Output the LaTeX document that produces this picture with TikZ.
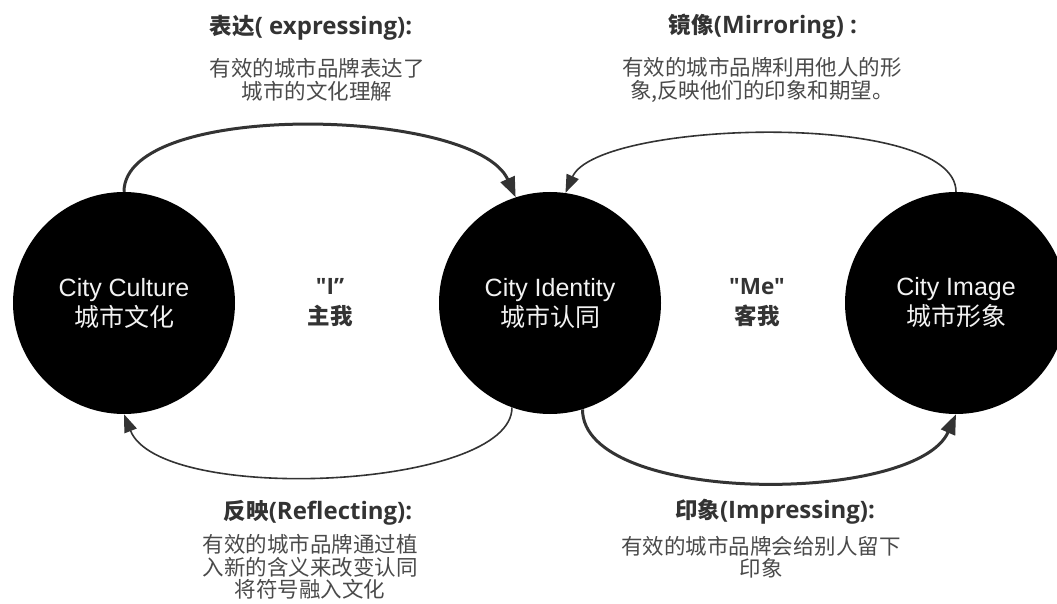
\documentclass[tikz,border=0pt]{standalone}
\usepackage{fontspec}
\setmainfont{Noto Sans CJK SC}
\newfontfamily\os{Open Sans}
\newfontfamily\lib{Liberation Sans}
\usetikzlibrary{arrows.meta}
\definecolor{arr}{HTML}{333333}
\definecolor{head}{HTML}{333333}
\definecolor{desc}{HTML}{4A4A4A}
\definecolor{ctext}{HTML}{F2F2F2}
\newcommand{\hl}[1]{{\os\fontsize{24}{26}\selectfont #1}}
\begin{document}
\begin{tikzpicture}[x=1pt,y=-1pt,
  city/.style={circle,fill=black,minimum size=222pt,inner sep=0pt,text=ctext,align=center,font=\fontsize{25}{30}\selectfont},
  heading/.style={text=head,font=\fontsize{22.5}{26}\selectfont\bfseries,inner sep=0pt},
  desc/.style={text=desc,align=center,font=\fontsize{21.5}{22.5}\selectfont,inner sep=0pt},
  mid/.style={text=head,align=center,font=\fontsize{22.5}{30}\selectfont\bfseries,inner sep=0pt},
  thickarr/.style={draw=arr,line width=3pt,-{Triangle[length=20pt,width=15pt]}},
  thinarr/.style={draw=arr,line width=1.6pt,-{Triangle[length=18pt,width=13pt]}},
]
\useasboundingbox (0,0) rectangle (1057,604);
\node[city] (cul) at (124,303) {{\lib City Culture}\\城市文化};
\node[city] (ide) at (550,303) {{\lib City Identity}\\城市认同};
\node[city] (img) at (956,303) {{\lib City Image}\\城市形象};

\node[mid] (me1) at (330,303) {{\os "I”}\\主我};
\node[mid] (me2) at (757,303) {{\os "Me"}\\客我};

\node[heading] (h1) at (311,28) {表达\hl{( expressing):}};
\node[desc] (d1) at (317,80) {有效的城市品牌表达了\\城市的文化理解};
\node[heading] (h2) at (763,27) {镜像\hl{(Mirroring) :}};
\node[desc] (d2) at (762,80) {有效的城市品牌利用他人的形\\象,反映他们的印象和期望。};
\node[heading] (h3) at (318,513) {反映\hl{(Reflecting):}};
\node[desc] (d3) at (310,567) {有效的城市品牌通过植\\入新的含义来改变认同\\将符号融入文化};
\node[heading] (h4) at (775,512) {印象\hl{(Impressing):}};
\node[desc] (d4) at (761,557) {有效的城市品牌会给别人留下\\印象};

\draw[thickarr] (cul.90) .. controls +(0,-92) and +(-40,-90) .. (ide.108);
\draw[thinarr] (img.90) .. controls +(0,-82) and +(32,-73) .. (ide.82);
\draw[thinarr] (ide.250) .. controls +(0,82) and +(36,91) .. (cul.270);
\draw[thickarr] (ide.287) .. controls +(0,96) and +(-40,91) .. (img.270);
\end{tikzpicture}
\end{document}
